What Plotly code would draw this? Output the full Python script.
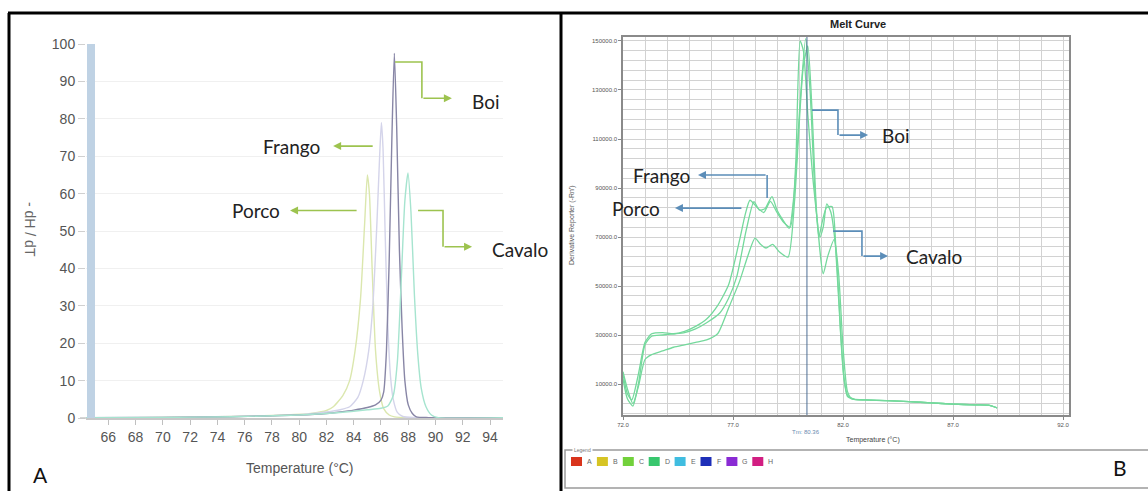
import plotly.graph_objects as go

W, H = 1148, 491


def px(x):
    return x / W


def py(y):
    return 1 - y / H


# ---------------- Panel A data (-dH/dT vs temperature) ----------------
porco_T = [64.3, 68, 72, 76, 79, 81, 82, 82.5, 83.2, 83.7, 84.1, 84.5, 84.8, 85.0, 85.15, 85.35, 85.6, 85.9, 86.2, 86.6, 87, 88, 95]
porco_v = [0.05, 0.1, 0.25, 0.45, 0.8, 1.3, 2.0, 3.0, 6, 10, 18, 32, 52, 65, 60, 40, 18, 7, 2.5, 0.8, 0.3, 0.1, 0.05]

frango_T = [64.3, 70, 75, 80, 82, 83, 83.7, 84.3, 84.7, 85.1, 85.4, 85.7, 85.9, 86.03, 86.15, 86.3, 86.5, 86.7, 86.9, 87.2, 87.6, 88.5, 95]
frango_v = [0.05, 0.15, 0.4, 0.9, 1.6, 2.2, 3, 5.5, 10, 18, 30, 52, 70, 79, 72, 50, 25, 11, 5, 1.5, 0.4, 0.1, 0.05]

boi_T = [64.3, 70, 75, 80, 82, 83, 84, 85, 85.6, 86.0, 86.2, 86.4, 86.6, 86.8, 86.98, 87.15, 87.35, 87.55, 87.75, 88.0, 88.3, 88.6, 89.5, 95]
boi_v = [0.05, 0.15, 0.35, 0.8, 1.2, 1.6, 2.1, 2.8, 3.5, 4.8, 7, 18, 42, 75, 97.5, 78, 45, 24, 10, 3.5, 1.2, 0.3, 0.1, 0.05]

cavalo_T = [64.3, 70, 75, 80, 82, 84, 85, 86, 86.5, 86.9, 87.2, 87.5, 87.75, 87.98, 88.2, 88.45, 88.7, 88.95, 89.3, 89.7, 90.2, 95]
cavalo_v = [0.05, 0.15, 0.35, 0.8, 1.2, 1.8, 2.2, 2.6, 3.2, 6, 15, 38, 58, 65.5, 55, 33, 17, 8, 3, 0.8, 0.1, 0.05]

a_series = [
    ("Porco", porco_T, porco_v, "#dbe7ae"),
    ("Frango", frango_T, frango_v, "#d4d4ea"),
    ("Boi", boi_T, boi_v, "#8886a6"),
    ("Cavalo", cavalo_T, cavalo_v, "#a6e4cf"),
]

a_xticks = list(range(66, 95, 2))

# ---------------- Panel B data (Derivative Reporter vs temperature) ----------------
tail_T = [82.5, 83.0, 84.0, 85.0, 86.0, 87.0, 88.0, 88.6, 89.0]
b1_T = [72.0, 72.2, 72.4, 72.7, 73.0, 73.3, 73.8, 74.3, 74.8, 75.3, 75.8, 76.3, 76.8, 77.3, 77.55, 77.77,
        78.1, 78.4, 78.7, 79.0, 79.3, 79.6, 79.85, 80.05, 80.2, 80.4, 80.65, 80.95, 81.1, 81.26, 81.45,
        81.7, 81.9, 82.05, 82.2] + tail_T
b1_v = [14000, 6000, 3500, 14000, 27000, 30500, 31000, 30500, 31500, 33500, 36500, 42000, 50500, 68800, 79000, 85000,
        82000, 80000, 84500, 80000, 76000, 74000, 100000, 150000, 146000, 120000, 92000, 70000, 74000, 83500, 80000,
        62000, 30000, 12000, 5500] + [3800, 3500, 3200, 2800, 2300, 1800, 1500, 1400, 300]

b2_T = [72.0, 72.2, 72.45, 72.7, 73.0, 73.3, 73.8, 74.3, 74.8, 75.3, 75.8, 76.4, 76.8, 77.17, 77.6, 77.95,
        78.2, 78.45, 78.77, 79.0, 79.3, 79.55, 79.8, 80.05, 80.3, 80.5, 80.7, 80.9, 81.05, 81.25, 81.5,
        81.7, 81.88, 82.02, 82.2] + tail_T
b2_v = [12000, 4000, 1000, 10000, 26000, 29500, 30000, 30500, 31000, 32500, 35000, 39000, 45000, 53800, 72800, 84400,
        81000, 81500, 86500, 81000, 76500, 73500, 90000, 125000, 151000, 130000, 92000, 70000, 76000, 82000, 82400,
        60000, 32000, 14000, 5000] + [3700, 3500, 3200, 2800, 2300, 1800, 1500, 1400, 300]

b3_T = [72.0, 72.2, 72.45, 72.7, 73.0, 73.3, 73.8, 74.3, 74.8, 75.3, 75.8, 76.3, 76.8, 77.3, 77.7, 78.0,
        78.25, 78.5, 78.8, 79.1, 79.5, 79.8, 80.0, 80.2, 80.4, 80.6, 80.8, 81.1, 81.3, 81.6, 81.8,
        82.0, 82.2, 82.4] + tail_T[1:]
b3_v = [15000, 8000, 2000, 9000, 20000, 22000, 23500, 25000, 26000, 27000, 28000, 30500, 41000, 52000, 63000, 69500,
        67000, 65500, 67000, 64000, 61800, 85000, 115000, 140000, 148000, 120000, 80000, 55000, 62000, 69000, 55000,
        25000, 7000, 4000] + [3500, 3200, 2800, 2300, 1800, 1500, 1400, 300]

b_series = [(b1_T, b1_v), (b2_T, b2_v), (b3_T, b3_v)]
b_color = "#74d99c"
tm_value = 80.36

legend_labels = ["A", "B", "C", "D", "E", "F", "G", "H"]
legend_colors = ["#d9341c", "#d6c424", "#72d13b", "#38c76e", "#40bde0", "#1e2fb8", "#8a2bd4", "#d21e82"]

# connectors (data coordinates): polyline points, label text, label position
a_conn = [
    ("Boi", [(87.03, 95.2), (89.0, 95.2), (89.0, 85.5), (91.2, 85.5)], (92.53, 84.6), "left"),
    ("Frango", [(85.5, 72.7), (82.49, 72.7)], (81.68, 72.7), "right"),
    ("Porco", [(84.32, 55.5), (79.33, 55.5)], (78.74, 55.5), "right"),
    ("Cavalo", [(88.72, 55.5), (90.55, 55.5), (90.55, 45.8), (92.68, 45.8)], (94.0, 45.0), "left"),
]
b_conn = [
    ("Boi", [(80.59, 121800), (81.77, 121800), (81.77, 111600), (83.14, 111600)], (83.68, 111600), "left"),
    ("Frango", [(78.55, 85900), (78.55, 95300), (75.41, 95300)], (75.14, 95300), "right"),
    ("Porco", [(77.45, 81800), (74.36, 81800)], (73.77, 81800), "right"),
    ("Cavalo", [(81.55, 72400), (82.86, 72400), (82.86, 62200), (84.05, 62200)], (84.77, 62200), "left"),
]

fig = go.Figure()

for name, T, v, col in a_series:
    fig.add_trace(go.Scatter(x=T, y=v, mode="lines", name=name, xaxis="x", yaxis="y",
                             line=dict(color=col, width=1.4, shape="spline", smoothing=0.6),
                             hoverinfo="skip"))

for T, v in b_series:
    fig.add_trace(go.Scatter(x=T, y=v, mode="lines", xaxis="x2", yaxis="y2",
                             line=dict(color=b_color, width=1.3, shape="spline", smoothing=0.6),
                             hoverinfo="skip"))

annotations = []
label_font = dict(family="Lato", size=19, color="#222222")


def add_connectors(conns, xa, ya, color):
    for name, pts, lab, anchor in conns:
        if len(pts) > 2:
            fig.add_trace(go.Scatter(x=[p[0] for p in pts[:-1]], y=[p[1] for p in pts[:-1]],
                                     mode="lines", xaxis=xa, yaxis=ya,
                                     line=dict(color=color, width=1.6), hoverinfo="skip"))
        (x0, y0), (x1, y1) = pts[-2], pts[-1]
        annotations.append(dict(x=x1, y=y1, ax=x0, ay=y0, xref=xa, yref=ya, axref=xa, ayref=ya,
                                showarrow=True, arrowhead=2, arrowsize=1, arrowwidth=1.6,
                                arrowcolor=color, text=""))
        annotations.append(dict(x=lab[0], y=lab[1], xref=xa, yref=ya, text=name, showarrow=False,
                                xanchor=anchor, yanchor="middle", font=label_font))


add_connectors(a_conn, "x", "y", "#9dc34f")
add_connectors(b_conn, "x2", "y2", "#5b8db8")


def ptext(x, y, text, size, color, family="Liberation Sans", angle=0, **kw):
    d = dict(x=px(x), y=py(y), xref="paper", yref="paper", text=text, showarrow=False,
             xanchor="center", yanchor="middle", textangle=angle,
             font=dict(family=family, size=size, color=color))
    d.update(kw)
    return d


annotations += [
    ptext(806, 432, f"Tm: {tm_value:.2f}", 6, "#6a8ab0"),
    ptext(300, 468, "Temperature (°C)", 14, "#555"),
    ptext(30, 229, "- dH / dT", 14, "#666", angle=90),
    ptext(873, 440, "Temperature (°C)", 7, "#444"),
    ptext(572, 225, "Derivative Reporter (-Rn')", 7, "#555", angle=-90),
    ptext(858, 24, "<b>Melt Curve</b>", 11, "#222"),
    ptext(40, 474, "A", 21, "#111", family="Lato"),
    ptext(1120, 467, "B", 21, "#111", family="Lato"),
    ptext(582, 450, "Legend", 5, "#777", bgcolor="white"),
]

shapes = [
    dict(type="rect", xref="paper", yref="paper", x0=px(87), x1=px(95), y0=py(418), y1=py(44),
         fillcolor="#bfd2e4", line=dict(width=0), layer="above"),
    dict(type="line", xref="paper", yref="paper", x0=px(80), x1=px(86), y0=py(418), y1=py(418),
         line=dict(color="#c8c8c8", width=1.5)),
    dict(type="line", xref="x2", yref="y2 domain", x0=tm_value, x1=tm_value, y0=0, y1=1,
         line=dict(color="#4d6d94", width=1)),
    dict(type="line", xref="paper", yref="paper", x0=px(8), x1=1, y0=py(13), y1=py(13),
         line=dict(color="black", width=3)),
    dict(type="line", xref="paper", yref="paper", x0=px(9), x1=px(9), y0=py(13), y1=0,
         line=dict(color="black", width=3)),
    dict(type="line", xref="paper", yref="paper", x0=px(561), x1=px(561), y0=py(13), y1=0,
         line=dict(color="black", width=3)),
    dict(type="rect", xref="paper", yref="paper", x0=px(565), x1=px(1150), y0=py(488), y1=py(450),
         line=dict(color="#9a9a9a", width=1.5), fillcolor="rgba(0,0,0,0)"),
]

for i, (lab, col) in enumerate(zip(legend_labels, legend_colors)):
    x0 = 571 + i * 25.9
    shapes.append(dict(type="rect", xref="paper", yref="paper", x0=px(x0), x1=px(x0 + 11),
                       y0=py(466), y1=py(457), fillcolor=col, line=dict(width=0)))
    annotations.append(dict(x=px(x0 + 14), y=py(461.5), xref="paper", yref="paper", text=lab,
                            showarrow=False, xanchor="left", yanchor="middle",
                            font=dict(family="Liberation Sans", size=7, color="#666")))

tickfont_a = dict(family="Liberation Sans", size=14, color="#555")
tickfont_b = dict(family="Liberation Sans", size=6, color="#555")

fig.update_layout(
    width=W, height=H, autosize=False,
    margin=dict(l=0, r=0, t=0, b=0, pad=0, autoexpand=False),
    paper_bgcolor="white", plot_bgcolor="white", showlegend=False,
    xaxis=dict(domain=[px(86), px(503)], range=[64.36, 94.95], anchor="y", automargin=False,
               tickvals=a_xticks, ticks="outside", ticklen=5, tickcolor="#c0c0c0",
               showline=True, linecolor="#c8c8c8", linewidth=1.5, showgrid=False, zeroline=False,
               tickfont=tickfont_a),
    yaxis=dict(domain=[py(418), py(44)], range=[0, 100], anchor="x", dtick=10, automargin=False,
               ticks="outside", ticklen=7, tickcolor="#d0d0d0", showline=False,
               showgrid=True, gridcolor="#f0f0f0", zeroline=False, tickfont=tickfont_a),
    xaxis2=dict(domain=[px(623), px(1069)], range=[72, 92.27], anchor="y2", automargin=False,
                tick0=77, dtick=5, tickformat=".1f", ticks="outside", ticklen=3, tickcolor="#888",
                showgrid=True, gridcolor="#d2d2d2",
                minor=dict(tick0=72, dtick=1, showgrid=True, gridcolor="#d2d2d2"),
                showline=True, mirror=True, linecolor="#8a8a8a", linewidth=1.5, zeroline=False,
                tickfont=tickfont_b),
    yaxis2=dict(domain=[py(415), py(37)], range=[-2653, 151630], anchor="x2", automargin=False,
                tick0=10000, dtick=20000, tickformat=".1f", ticks="outside", ticklen=3, tickcolor="#888",
                showgrid=True, gridcolor="#d2d2d2",
                minor=dict(tick0=10000, dtick=4000, showgrid=True, gridcolor="#d2d2d2"),
                showline=True, mirror=True, linecolor="#8a8a8a", linewidth=1.5, zeroline=False,
                tickfont=tickfont_b),
    shapes=shapes, annotations=annotations,
)

post = ("document.documentElement.style.margin='0';document.body.style.margin='0';"
        "document.documentElement.style.overflow='hidden';document.body.style.overflow='hidden';"
        "var d=document.getElementById('{plot_id}');d.style.position='fixed';d.style.left='0px';"
        "d.style.top='0px';")

fig.write_html("out.html", config={"displayModeBar": False}, post_script=post)
